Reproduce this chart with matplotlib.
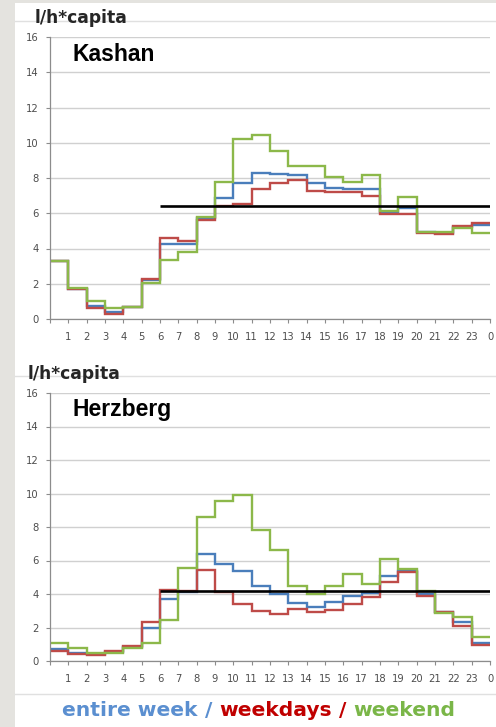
import matplotlib; matplotlib.use("Agg")
import matplotlib.pyplot as plt
from matplotlib.patches import Rectangle
from matplotlib.lines import Line2D
import numpy as np

# hourly values (l/h*capita), hour h covers [h, h+1]
hours = np.arange(25)
xlabels = [str(h) for h in range(1, 24)] + ["0"]

kashan_week    = [3.3, 1.7, 0.75, 0.4, 0.7, 2.2, 4.25, 4.25, 5.75, 6.85, 7.7, 8.3, 8.25, 8.15, 7.7, 7.45, 7.4, 7.35, 6.05, 6.3, 4.95, 4.9, 5.2, 5.35]
kashan_workday = [3.3, 1.7, 0.6, 0.3, 0.7, 2.25, 4.6, 4.4, 5.6, 6.4, 6.55, 7.35, 7.7, 7.9, 7.25, 7.2, 7.2, 7.0, 5.95, 5.95, 4.9, 4.85, 5.25, 5.45]
kashan_weekend = [3.3, 1.75, 1.0, 0.6, 0.7, 2.05, 3.35, 3.8, 5.8, 7.8, 10.2, 10.45, 9.55, 8.7, 8.7, 8.05, 7.75, 8.15, 6.15, 6.9, 4.95, 4.95, 5.15, 4.9]
kashan_avg = 6.42

herz_week    = [0.7, 0.5, 0.4, 0.55, 0.85, 1.95, 3.7, 4.1, 6.4, 5.8, 5.4, 4.5, 4.0, 3.45, 3.2, 3.5, 3.9, 4.05, 5.1, 5.4, 4.0, 2.9, 2.3, 1.1]
herz_workday = [0.6, 0.4, 0.35, 0.6, 0.9, 2.35, 4.25, 4.2, 5.45, 4.1, 3.4, 3.0, 2.8, 3.1, 2.95, 3.05, 3.4, 3.85, 4.7, 5.3, 3.9, 2.9, 2.1, 0.95]
herz_weekend = [1.1, 0.75, 0.45, 0.45, 0.75, 1.05, 2.45, 5.55, 8.6, 9.55, 9.9, 7.85, 6.6, 4.45, 4.0, 4.5, 5.2, 4.6, 6.1, 5.5, 4.2, 2.85, 2.65, 1.45]
herz_avg = 4.15

BLUE = "#4a7ebb"; RED = "#be4b48"; GREEN = "#8cb84a"; GRID = "#d0d0d0"; AX = "#8c8c8c"; TXT = "#4d4d4d"
plt.rcParams.update({"font.family": "DejaVu Sans"})

W, H = 496, 727
fig = plt.figure(figsize=(W / 100, H / 100), dpi=100, facecolor="#e4e3df")
fig.patches.append(Rectangle((15 / W, 0), 1 - 15 / W, 1 - 3 / H, transform=fig.transFigure, fc="white", ec="none", zorder=-10))
for yp in (21, 376, 694):
    fig.lines.append(Line2D([15 / W, 1], [1 - yp / H] * 2, transform=fig.transFigure, color="#e0e0e0", lw=1))


def panel(rect, week, workday, weekend, avg, name, lab_xy):
    ax = fig.add_axes(rect)
    ax.set_xlim(0, 24); ax.set_ylim(0, 16)
    ax.set_yticks(range(0, 17, 2))
    ax.set_xticks(hours, [""] + xlabels)
    ax.grid(axis="y", color=GRID, lw=1); ax.set_axisbelow(True)
    for s in ("top", "right"):
        ax.spines[s].set_visible(False)
    for s in ("left", "bottom"):
        ax.spines[s].set_color(AX); ax.spines[s].set_linewidth(0.9)
    ax.tick_params(axis="both", colors=AX, labelcolor=TXT, labelsize=7.2, length=3, width=0.8)
    ax.tick_params(axis="x", pad=6)
    ax.tick_params(axis="y", pad=5)
    ax.set_facecolor("none")
    ax.stairs(week, hours, baseline=None, color=BLUE, lw=1.7)
    ax.stairs(workday, hours, baseline=None, color=RED, lw=1.7)
    ax.stairs(weekend, hours, baseline=None, color=GREEN, lw=1.7)
    ax.hlines(avg, 6, 24, color="black", lw=1.9, zorder=5)
    ax.text(0.05, 0.937, name, transform=ax.transAxes, fontsize=16.5, fontweight="bold",
            family="Liberation Sans", va="center", ha="left")
    fig.text(lab_xy[0] / W, 1 - lab_xy[1] / H, "l/h*capita", fontsize=12.3, fontweight="bold",
             color="#262626", va="center", ha="left")
    return ax


panel([50 / W, 1 - 319 / H, 440 / W, 282 / H], kashan_week, kashan_workday, kashan_weekend, kashan_avg, "Kashan", (35, 18))
panel([50 / W, 1 - 661 / H, 440 / W, 268 / H], herz_week, herz_workday, herz_weekend, herz_avg, "Herzberg", (28, 374))

# coloured legend line
parts = [("entire week", "#5b8fd0"), (" / ", "#5b8fd0"), ("weekdays", "#c00000"), (" / ", "#c00000"), ("weekend", "#7ab648")]
r = fig.canvas.get_renderer()
x = 62 / W
for s, c in parts:
    t = fig.text(x, 1 - 711 / H, s, fontsize=14.6, fontweight="bold", color=c, va="center", ha="left")
    bb = t.get_window_extent(renderer=r)
    x += bb.width / W

fig.savefig("out.png", dpi=100, facecolor=fig.get_facecolor())
